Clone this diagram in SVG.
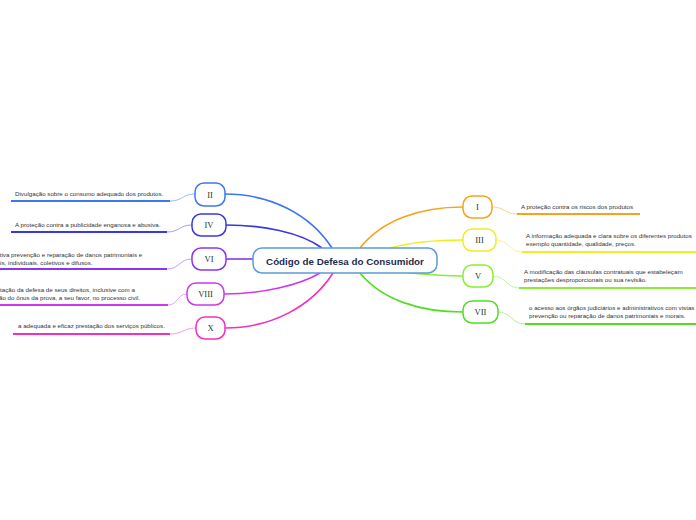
<svg xmlns="http://www.w3.org/2000/svg" width="696" height="520" viewBox="0 0 696 520">
<style>
.bg{fill:#ffffff}
.node rect{fill:#ffffff;stroke-width:1.5}
.lbl{font-family:"Liberation Serif",serif;font-size:8.5px;fill:#0f3b2c;text-anchor:middle}
.txt{font-family:"Liberation Sans",Arial,sans-serif;font-size:6.2px;fill:#333333}
.main{fill:none;stroke-width:1.6}
.sub{fill:none;stroke-width:1}
.ul{fill:none;stroke-width:2}
.center rect{fill:#ffffff;stroke:#5b9bd8;stroke-width:1.5}
.ctext{font-family:"Liberation Sans",Arial,sans-serif;font-size:9.8px;font-weight:bold;fill:#1f2d4d;text-anchor:middle}
</style>
<rect class="bg" x="0" y="0" width="696" height="520"/>
<g id="connectors">
<path class="main" stroke="#3a78f0" d="M332,248 C310,214 270,194 225,194"/>
<path class="main" stroke="#3838e0" d="M322,248 C300,232 262,225 226,225"/>
<path class="main" stroke="#8a35f0" d="M253,259 L226,259"/>
<path class="main" stroke="#cc38ee" d="M320,273 C300,285 262,294 224,294"/>
<path class="main" stroke="#f030c0" d="M333,273 C312,306 272,328 225,328"/>
<path class="main" stroke="#f7a21b" d="M360,248 C382,220 420,207 463,207"/>
<path class="main" stroke="#eeee22" d="M390,248 C412,242 432,240 463,240"/>
<path class="main" stroke="#88ee33" d="M410,273 C432,275 446,276 463,276"/>
<path class="main" stroke="#4ee020" d="M360,273 C382,300 420,312 463,312"/>
<path class="sub" stroke="#a0b8f5" d="M170,201 C183,201 182,194 195,194"/>
<path class="sub" stroke="#a0a0f0" d="M167,232 C180,232 179,225 192,225"/>
<path class="sub" stroke="#c8a0f5" d="M167,269 C180,269 179,259 192,259"/>
<path class="sub" stroke="#eaa0f5" d="M168,305 C178,305 177,294 187,294"/>
<path class="sub" stroke="#f5a0dd" d="M170,334 C183,334 183,328 196,328"/>
<path class="sub" stroke="#fcd090" d="M492,207 C505,207 504,214 517,214"/>
<path class="sub" stroke="#f5f590" d="M496,240 C509,240 509,252 522,252"/>
<path class="sub" stroke="#c0f590" d="M493,276 C506,276 506,288 519,288"/>
<path class="sub" stroke="#b0f0a0" d="M498,312 C511,312 512,324 525,324"/>
<path class="ul" stroke="#3a78f0" d="M11,201 L170,201"/>
<path class="ul" stroke="#3838e0" d="M11,232 L167,232"/>
<path class="ul" stroke="#8a35f0" d="M0,269 L167,269"/>
<path class="ul" stroke="#cc38ee" d="M0,305 L168,305"/>
<path class="ul" stroke="#f030c0" d="M13,334 L170,334"/>
<path class="ul" stroke="#f7a21b" d="M517,214 L640,214"/>
<path class="ul" stroke="#eeee22" d="M522,252 L696,252"/>
<path class="ul" stroke="#88ee33" d="M519,288 L696,288"/>
<path class="ul" stroke="#4ee020" d="M525,324 L696,324"/>
</g>
<g id="center" class="center">
<rect x="253" y="248" width="184" height="25" rx="9"/>
<text class="ctext" x="345" y="264.5">Código de Defesa do Consumidor</text>
</g>
<g id="n2" class="node">
<rect x="195" y="183" width="30" height="23" rx="9" stroke="#3a78f0"/>
<text class="lbl" x="210" y="197.5">II</text>
<text class="txt" x="15" y="196">Divulgação sobre o consumo adequado dos produtos.</text>
</g>
<g id="n4" class="node">
<rect x="192" y="214" width="34" height="22" rx="9" stroke="#3838e0"/>
<text class="lbl" x="209" y="228">IV</text>
<text class="txt" x="15" y="227">A proteção contra a publicidade enganosa e abusiva.</text>
</g>
<g id="n6" class="node">
<rect x="192" y="248" width="34" height="22" rx="9" stroke="#8a35f0"/>
<text class="lbl" x="209" y="262">VI</text>
<text class="txt" x="-14" y="257">a efetiva prevenção e reparação de danos patrimoniais e</text>
<text class="txt" x="-14" y="264.5">morais, individuais, coletivos e difusos.</text>
</g>
<g id="n8" class="node">
<rect x="187" y="283" width="37" height="22" rx="9" stroke="#cc38ee"/>
<text class="lbl" x="205.5" y="297">VIII</text>
<text class="txt" x="-17.5" y="292">a facilitação da defesa de seus direitos, inclusive com a</text>
<text class="txt" x="-17.5" y="300">inversão do ônus da prova, a seu favor, no processo civil.</text>
</g>
<g id="n10" class="node">
<rect x="196" y="317" width="29" height="22" rx="9" stroke="#f030c0"/>
<text class="lbl" x="210.5" y="331">X</text>
<text class="txt" x="18" y="328">a adequada e eficaz prestação dos serviços públicos.</text>
</g>
<g id="n1" class="node">
<rect x="463" y="196" width="29" height="22" rx="9" stroke="#f7a21b"/>
<text class="lbl" x="477.5" y="210">I</text>
<text class="txt" x="521" y="209">A proteção contra os riscos dos produtos</text>
</g>
<g id="n3" class="node">
<rect x="463" y="229" width="33" height="22" rx="9" stroke="#eeee22"/>
<text class="lbl" x="479.5" y="243">III</text>
<text class="txt" x="526" y="238">A informação adequada e clara sobre os diferentes produtos</text>
<text class="txt" x="526" y="245.5">exemplo quantidade, qualidade, preços.</text>
</g>
<g id="n5" class="node">
<rect x="463" y="265" width="30" height="22" rx="9" stroke="#88ee33"/>
<text class="lbl" x="478" y="279">V</text>
<text class="txt" x="524" y="274">A modificação das cláusulas contratuais que estabeleçam</text>
<text class="txt" x="524" y="282">prestações desproporcionais ou sua revisão.</text>
</g>
<g id="n7" class="node">
<rect x="463" y="301" width="35" height="22" rx="9" stroke="#4ee020"/>
<text class="lbl" x="480.5" y="315">VII</text>
<text class="txt" x="529" y="310">o acesso aos órgãos judiciários e administrativos com vistas</text>
<text class="txt" x="529" y="318">prevenção ou reparação de danos patrimoniais e morais.</text>
</g>
</svg>
